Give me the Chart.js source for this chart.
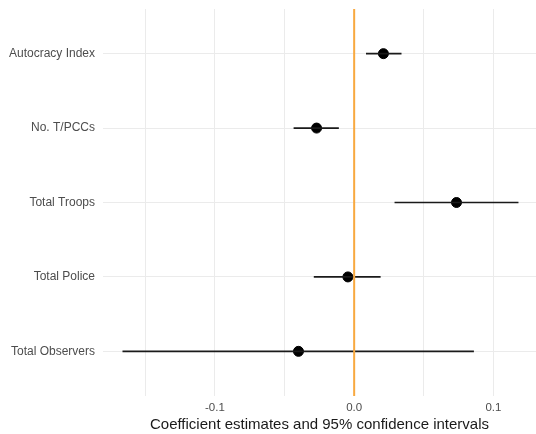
<!DOCTYPE html>
<html>
<head>
<meta charset="utf-8">
<script src="https://cdn.jsdelivr.net/npm/chart.js@4.4.0/dist/chart.umd.min.js"></script>
<style>
  html, body { margin: 0; padding: 0; background: #fff; }
  #wrap { width: 536px; height: 434px; }
</style>
</head>
<body>
<div id="wrap"><canvas id="coef"></canvas></div>
<script>
// Coefficient plot data
const terms = ['Autocracy Index', 'No. T/PCCs', 'Total Troops', 'Total Police', 'Total Observers'];
const estimates = [0.021, -0.027, 0.0735, -0.0045, -0.040];
const lower = [0.0085, -0.0435, 0.029, -0.029, -0.1664];
const upper = [0.034, -0.011, 0.118, 0.019, 0.086];
const xTicks = [-0.15, -0.1, -0.05, 0, 0.05, 0.1];
const xLabels = ['', '-0.1', '', '0.0', '', '0.1'];

const grey = '#ebebeb';

// one line per confidence interval
const ciSets = terms.map((t, i) => ({
    type: 'line',
    label: t + ' CI',
    data: [{ x: lower[i], y: i + 1 }, { x: upper[i], y: i + 1 }],
    borderColor: '#1a1a1a',
    borderWidth: 1.6,
    pointRadius: 0,
    fill: false
}));

const ctx = document.getElementById('coef').getContext('2d');
const coefChart = new Chart(ctx, {
    type: 'scatter',
    data: {
        datasets: [
            {
                type: 'line',
                label: 'zero',
                data: [{ x: 0, y: 0.4 }, { x: 0, y: 5.6 }],
                borderColor: '#f8a940',
                borderWidth: 2,
                pointRadius: 0,
                fill: false
            },
            ...ciSets,
            {
                label: 'Estimate',
                data: estimates.map((v, i) => ({ x: v, y: i + 1 })),
                backgroundColor: '#000',
                borderColor: '#000',
                pointRadius: 5,
                pointHoverRadius: 5
            }
        ]
    },
    options: {
        responsive: true,
        maintainAspectRatio: false,
        animation: false,
        layout: { autoPadding: false, padding: { top: 9, right: 0, left: 0, bottom: 0 } },
        plugins: {
            legend: { display: false },
            tooltip: { enabled: false }
        },
        scales: {
            x: {
                type: 'linear',
                min: -0.1804,
                max: 0.1306,
                afterBuildTicks: axis => { axis.ticks = xTicks.map(v => ({ value: v })); },
                afterFit: axis => {
                    axis.height = 38;
                    axis.paddingLeft = 0;
                    axis.paddingRight = 0;
                },
                ticks: {
                    color: '#4d4d4d',
                    font: { family: 'Liberation Sans', size: 11.5 },
                    padding: 5,
                    maxRotation: 0,
                    callback: (v, i) => xLabels[i]
                },
                grid: { color: grey, lineWidth: 1, drawTicks: false },
                border: { display: false },
                title: {
                    display: true,
                    text: 'Coefficient estimates and 95% confidence intervals',
                    color: '#1a1a1a',
                    font: { family: 'Liberation Sans', size: 15 },
                    padding: { top: 0, bottom: 0 }
                }
            },
            y: {
                type: 'linear',
                reverse: true,
                min: 0.4,
                max: 5.6,
                afterBuildTicks: axis => { axis.ticks = terms.map((t, i) => ({ value: i + 1 })); },
                afterFit: axis => {
                    axis.width = 103;
                    axis.paddingTop = 0;
                    axis.paddingBottom = 0;
                },
                ticks: {
                    color: '#4d4d4d',
                    font: { family: 'Liberation Sans', size: 12 },
                    padding: 8,
                    callback: v => terms[v - 1]
                },
                grid: { color: grey, lineWidth: 1, drawTicks: false },
                border: { display: false }
            }
        }
    }
});
</script>
</body>
</html>
